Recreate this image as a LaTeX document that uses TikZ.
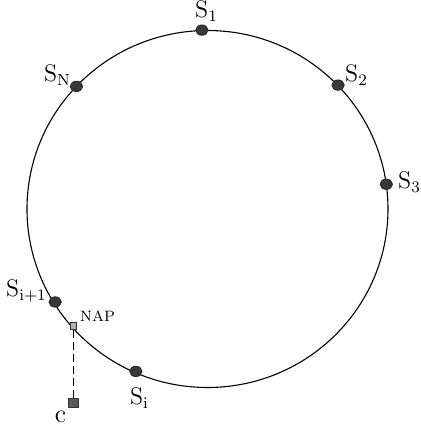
\documentclass[tikz,border=0pt]{standalone}
\usepackage{tikz}
\usetikzlibrary{shapes, positioning}

\begin{document}
\begin{tikzpicture}[x=0.5pt, y=0.5pt,
  station/.style={ellipse, fill=black!78, draw=black!85, inner sep=0pt, minimum width=6.2pt, minimum height=5.2pt},
  nap/.style={rectangle, fill=black!30, draw=black!80, line width=0.4pt, inner sep=0pt, minimum size=3.3pt},
  client/.style={rectangle, fill=black!65, draw=black!80, line width=0.4pt, inner sep=0pt, minimum size=4.8pt},
  lbl/.style={font=\fontsize{12}{14}\selectfont, inner sep=0pt}]
\useasboundingbox (-207.5,-221) rectangle (212.5,209);

% ring
\draw[line width=0.55pt] (0,0) ellipse [x radius=180.5, y radius=178.5];

% stations on the ring
\node[station] (s1) at (91.8:179) {};
\node[station] (s2) at (43.5:180) {};
\node[station] (s3) at (7.9:180.5) {};
\node[station] (sn) at (136.9:179.5) {};
\node[station] (sip) at (211.4:178.5) {};
\node[station] (si) at (246.2:177.5) {};

\node[lbl] (ls1) at (-1,198) {$\mathrm{S}_{1}$};
\node[lbl] (ls2) at (149,134) {$\mathrm{S}_{2}$};
\node[lbl] (ls3) at (202,27) {$\mathrm{S}_{3}$};
\node[lbl] (lsn) at (-150,134) {$\mathrm{S}_{\mathrm{N}}$};
\node[lbl] (lsip) at (-181,-82) {$\mathrm{S}_{\mathrm{i+1}}$};
\node[lbl] (lsi) at (-68,-189) {$\mathrm{S}_{\mathrm{i}}$};

% access point and client
\node[nap] (nap) at (-134,-117) {};
\node[font=\fontsize{7.5}{9}\selectfont, inner sep=0pt] (lnap) at (-110,-107) {NAP};
\node[client] (c) at (-134,-194) {};
\node[font=\fontsize{13}{15}\selectfont, inner sep=0pt] (lc) at (-147,-208) {c};

\draw[dashed, dash pattern=on 4pt off 2pt, line width=0.5pt] (nap) -- (c);
\end{tikzpicture}
\end{document}
